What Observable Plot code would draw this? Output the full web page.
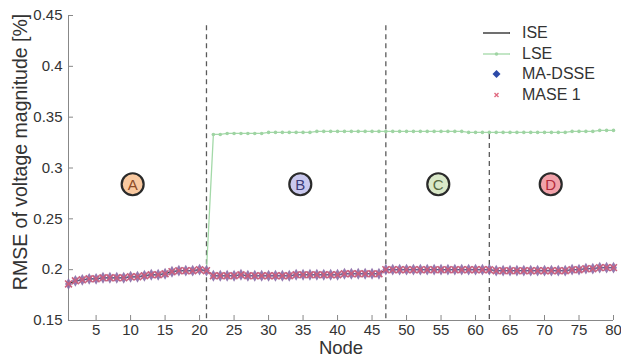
<!DOCTYPE html>
<html>
<head>
<meta charset="utf-8">
<script src="https://cdn.jsdelivr.net/npm/d3@7"></script>
<script src="https://cdn.jsdelivr.net/npm/@observablehq/plot@0.6"></script>
<style>
  html, body { margin: 0; padding: 0; background: #fff; }
  #wrap { position: relative; width: 621px; height: 357px; font-family: "Liberation Sans", Arial, sans-serif; }
  #legend { position: absolute; left: 480px; top: 23px; font-size: 16px; color: #333; }
  #legend .row { display: flex; align-items: center; height: 20.6px; }
  #legend svg { width: 34px; height: 20px; margin-right: 8px; }
</style>
</head>
<body>
<div id="wrap"></div>
<script>
// ---- data ----
const nodes = [1,2,3,4,5,6,7,8,9,10,11,12,13,14,15,16,17,18,19,20,
  21,22,23,24,25,26,27,28,29,30,31,32,33,34,35,36,37,38,39,40,
  41,42,43,44,45,46,47,48,49,50,51,52,53,54,55,56,57,58,59,60,
  61,62,63,64,65,66,67,68,69,70,71,72,73,74,75,76,77,78,79,80];

const iseValues = [0.186,0.189,0.190,0.191,0.191,0.192,0.192,0.192,0.192,0.193,
  0.193,0.194,0.195,0.195,0.196,0.198,0.199,0.199,0.199,0.200,
  0.199,0.194,0.194,0.194,0.194,0.195,0.194,0.194,0.194,0.194,
  0.194,0.194,0.194,0.195,0.195,0.195,0.195,0.195,0.195,0.195,
  0.196,0.196,0.196,0.196,0.196,0.196,0.200,0.200,0.200,0.200,
  0.200,0.200,0.200,0.200,0.200,0.200,0.200,0.200,0.200,0.200,
  0.200,0.200,0.199,0.199,0.199,0.199,0.199,0.199,0.199,0.199,
  0.199,0.199,0.199,0.200,0.200,0.201,0.201,0.202,0.202,0.202];

const lseValues = [0.186,0.189,0.190,0.191,0.191,0.192,0.192,0.192,0.192,0.193,
  0.193,0.194,0.195,0.195,0.196,0.198,0.199,0.199,0.199,0.200,
  0.199,0.333,0.333,0.334,0.334,0.334,0.334,0.334,0.334,0.335,
  0.335,0.335,0.335,0.335,0.335,0.335,0.336,0.336,0.336,0.336,
  0.336,0.336,0.336,0.336,0.336,0.336,0.336,0.336,0.336,0.336,
  0.336,0.336,0.336,0.336,0.336,0.336,0.336,0.336,0.335,0.335,
  0.335,0.335,0.335,0.335,0.335,0.335,0.335,0.335,0.335,0.335,
  0.335,0.335,0.335,0.336,0.336,0.336,0.336,0.337,0.337,0.337];

const maDsseValues = [0.186,0.189,0.190,0.191,0.191,0.192,0.192,0.192,0.192,0.193,
  0.193,0.194,0.195,0.195,0.196,0.198,0.199,0.199,0.199,0.200,
  0.199,0.194,0.194,0.194,0.194,0.195,0.194,0.194,0.194,0.194,
  0.194,0.194,0.194,0.195,0.195,0.195,0.195,0.195,0.195,0.195,
  0.196,0.196,0.196,0.196,0.196,0.196,0.200,0.200,0.200,0.200,
  0.200,0.200,0.200,0.200,0.200,0.200,0.200,0.200,0.200,0.200,
  0.200,0.200,0.199,0.199,0.199,0.199,0.199,0.199,0.199,0.199,
  0.199,0.199,0.199,0.200,0.200,0.201,0.201,0.202,0.202,0.202];

const mase1Values = [0.186,0.189,0.190,0.191,0.191,0.192,0.192,0.192,0.192,0.193,
  0.193,0.194,0.195,0.195,0.196,0.198,0.199,0.199,0.199,0.200,
  0.199,0.194,0.194,0.194,0.194,0.195,0.194,0.194,0.194,0.194,
  0.194,0.194,0.194,0.195,0.195,0.195,0.195,0.195,0.195,0.195,
  0.196,0.196,0.196,0.196,0.196,0.196,0.200,0.200,0.200,0.200,
  0.200,0.200,0.200,0.200,0.200,0.200,0.200,0.200,0.200,0.200,
  0.200,0.200,0.199,0.199,0.199,0.199,0.199,0.199,0.199,0.199,
  0.199,0.199,0.199,0.200,0.200,0.201,0.201,0.202,0.202,0.202];

const xTicks = [5,10,15,20,25,30,35,40,45,50,55,60,65,70,75,80];
const yTicks = [0.15,0.2,0.25,0.3,0.35,0.4,0.45];

const dividerNodes = [21, 47, 62];
const dividerTops = [0.44, 0.44, 0.333];

const regionLetters = ["A","B","C","D"];
const regionNodes = [10.3, 34.6, 54.6, 70.9];
const regionValue = 0.284;
const regionFills = ["#f9c9a0","#c9c8ee","#d9e8c8","#f2a2aa"];
const regionInk = ["#8c4a26","#3a3a78","#55663f","#b0283a"];

const seriesNames = ["ISE","LSE","MA-DSSE","MASE 1"];
const xLabel = "Node";
const yLabel = "RMSE of voltage magnitude [%]";

// ---- tables ----
const pts = nodes.map((n,i) => ({node:n, ise:iseValues[i], lse:lseValues[i], ma:maDsseValues[i], mase:mase1Values[i]}));
const dividers = dividerNodes.map((n,i) => ({node:n, top:dividerTops[i]}));
const regions = regionLetters.map((l,i) => ({letter:l, node:regionNodes[i], v:regionValue, fill:regionFills[i], ink:regionInk[i]}));

const font = "Liberation Sans, Arial, sans-serif";

const chart = Plot.plot({
  width: 621,
  height: 357,
  marginTop: 15,
  marginBottom: 37,
  marginLeft: 68,
  marginRight: 8,
  style: {fontFamily: font, background: "#fff"},
  x: {domain: [1, 80]},
  y: {domain: [0.15, 0.45]},
  marks: [
    Plot.axisX({ticks: xTicks, tickSize: -5, tickPadding: 9, fontSize: 15, color: "#333", stroke: "#888", label: null, tickFormat: d => String(d)}),
    Plot.axisY({ticks: yTicks, tickSize: -5, tickPadding: 11, fontSize: 15, color: "#333", stroke: "#888", label: null, tickFormat: d => String(+d.toFixed(2))}),
    Plot.ruleX([0], {x: () => 1, stroke: "#888", strokeWidth: 1}),
    Plot.ruleY([0], {y: () => 0.15, stroke: "#888", strokeWidth: 1}),
    Plot.ruleX(dividers, {x: "node", y1: "top", y2: () => 0.15, stroke: "#5a5a5a", strokeWidth: 1.3, strokeDasharray: "5,4"}),
    Plot.line(pts, {x: "node", y: "lse", stroke: "#a3d9a8", strokeWidth: 1.3}),
    Plot.dot(pts.filter(d => d.node > 21), {x: "node", y: "lse", r: 1.8, fill: "#9fd4a3"}),
    Plot.line(pts, {x: "node", y: "ise", stroke: "#222", strokeWidth: 1}),
    Plot.dot(pts, {x: "node", y: "ma", symbol: "diamond", r: 3.6, fill: "#8a6aa6", fillOpacity: 0.9}),
    Plot.dot(pts, {x: "node", y: "mase", symbol: "times", r: 3.2, stroke: "#c9607e", strokeWidth: 1.6}),
    Plot.dot(regions, {x: "node", y: "v", r: 11, fill: "fill", stroke: "#2a2a2a", strokeWidth: 2.2}),
    Plot.text(regions, {x: "node", y: "v", text: "letter", fill: "ink", fontSize: 15, dy: 0.5}),
    Plot.text([yLabel], {frameAnchor: "left", textAnchor: "middle", rotate: -90, dx: -48, dy: -16, fontSize: 19.5, fill: "#333"}),
    Plot.text([xLabel], {frameAnchor: "bottom", textAnchor: "middle", dy: 33.5, fontSize: 18.5, fill: "#333"})
  ]
});

const wrap = document.getElementById("wrap");
wrap.appendChild(chart);

// legend
const legend = document.createElement("div");
legend.id = "legend";
const swatches = [
  '<line x1="3" x2="30" y1="10" y2="10" stroke="#222" stroke-width="1.3"/>',
  '<line x1="3" x2="30" y1="10" y2="10" stroke="#a3d9a8" stroke-width="1.3"/><circle cx="16.5" cy="10" r="1.8" fill="#9fd4a3"/>',
  '<path d="M16.5,6 L20.5,10 L16.5,14 L12.5,10 Z" fill="#2c4aa8"/>',
  '<path d="M14.5,8 L18.5,12 M18.5,8 L14.5,12" stroke="#e06a80" stroke-width="1.4"/>'
];
seriesNames.forEach((name, i) => {
  const row = document.createElement("div");
  row.className = "row";
  row.innerHTML = '<svg viewBox="0 0 34 20">' + swatches[i] + '</svg><span>' + name + '</span>';
  legend.appendChild(row);
});
wrap.appendChild(legend);
</script>
</body>
</html>
